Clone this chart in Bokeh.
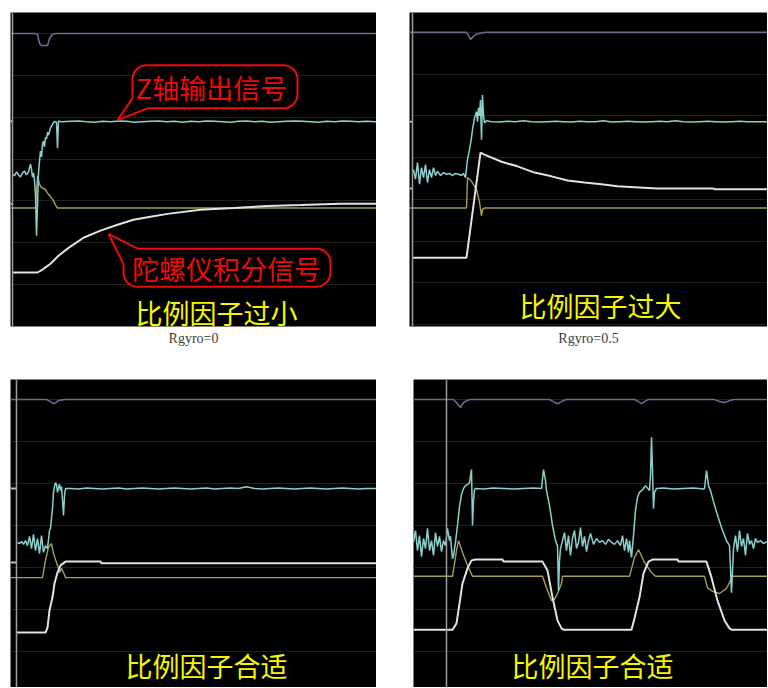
import numpy as np
from bokeh.plotting import figure
from bokeh.models import Range1d, Grid, FixedTicker, Span, Title, Spacer
from bokeh.layouts import row, column
from bokeh.core.properties import value
from bokeh.embed import file_html
from bokeh.resources import INLINE

# ------------------------------------------------------------------
# DATA  (x = time samples across the scope screen, y = scope divisions)
# ------------------------------------------------------------------
grid_levels = [0, 1, 2, 3, 4, 5, 6, 7]

# ---- panel 1 : Rgyro = 0  (比例因子过小) ----
p1_purple_t = [0, 25, 27, 29, 31, 37, 39, 42, 46, 366]
p1_purple_y = [7.0, 7.0, 6.98, 6.76, 6.71, 6.71, 6.88, 6.98, 7.0, 7.0]
p1_cyan_t = [2, 4, 6, 8, 10, 12, 14, 16, 18, 20,
             21, 22, 23, 24, 25, 26, 27, 28, 29, 30,
             31, 32, 33, 34, 35, 36, 37, 38, 40, 42,
             44, 46, 47, 48,
             52, 60, 68, 76, 84, 92, 100, 108, 116, 124,
             132, 140, 148, 156, 164, 172, 180, 188, 196, 204,
             212, 220, 228, 236, 244, 252, 260, 268, 276, 284,
             292, 300, 308, 316, 324, 332, 340, 348, 356, 366]
p1_cyan_y = [3.64, 3.60, 3.69, 3.62, 3.57, 3.67, 3.71, 3.62, 3.69, 3.88,
             3.76, 3.57, 3.67, 3.48, 3.12, 2.17, 2.88, 3.67, 3.95, 4.19,
             4.05, 4.36, 4.43, 4.29, 4.52, 4.48, 4.64, 4.57, 4.74, 4.83,
             4.90, 4.88, 4.26, 4.90,
             4.89, 4.90, 4.91, 4.89, 4.88, 4.90, 4.89, 4.91, 4.90, 4.88,
             4.89, 4.90, 4.91, 4.89, 4.90, 4.88, 4.90, 4.89, 4.91, 4.90,
             4.89, 4.88, 4.90, 4.91, 4.89, 4.90, 4.88, 4.89, 4.90, 4.91,
             4.90, 4.89, 4.88, 4.90, 4.89, 4.91, 4.90, 4.89, 4.90, 4.89]
p1_yellow_t = [0, 25, 26, 27, 29, 31, 34, 37, 40, 43, 45, 47, 366]
p1_yellow_y = [2.83, 2.83, 3.24, 3.60, 3.40, 3.31, 3.29, 3.19, 3.10, 3.00, 2.90, 2.83, 2.83]
p1_white_t = [2, 27, 32, 36, 40, 48, 57, 73, 90, 107, 123, 140, 157, 190, 223, 257, 290, 330, 366]
p1_white_y = [1.29, 1.29, 1.36, 1.43, 1.50, 1.69, 1.86, 2.12, 2.29, 2.43,
              2.55, 2.62, 2.69, 2.79, 2.83, 2.88, 2.90, 2.93, 2.93]
p1_edge_ticks = [4.90, 2.93]
p1_cursor = 2

# ---- panel 2 : Rgyro = 0.5  (比例因子过大) ----
p2_purple_t = [0, 57, 59, 61, 63, 66, 71, 76, 358]
p2_purple_y = [7.0, 7.0, 6.93, 6.83, 6.88, 6.95, 6.98, 7.0, 7.0]
p2_cyan_t = [4, 6, 8, 10, 12, 14, 16, 18, 20, 22,
             24, 26, 28, 31, 34, 37, 40, 43, 46, 49,
             52, 54, 56, 58, 60, 62, 63, 65, 67, 68,
             69, 70, 71, 72, 73, 74, 75, 77,
             82, 90, 98, 106, 114, 122, 130, 138, 146, 154,
             162, 170, 178, 186, 194, 202, 210, 218, 226, 234,
             242, 250, 258, 266, 274, 282, 290, 298, 306, 314,
             322, 330, 338, 346, 358]
p2_cyan_y = [3.71, 3.48, 3.88, 3.36, 3.76, 3.52, 3.83, 3.40, 3.71, 3.52,
             3.76, 3.57, 3.67, 3.57, 3.64, 3.60, 3.62, 3.57, 3.62, 3.60,
             3.57, 3.62, 3.52, 3.95, 4.19, 4.48, 4.67, 4.95, 5.10, 4.86,
             5.19, 5.00, 5.38, 4.43, 5.50, 5.02, 4.83, 4.88,
             4.86, 4.85, 4.87, 4.86, 4.88, 4.86, 4.85, 4.86, 4.87, 4.86,
             4.85, 4.87, 4.86, 4.86, 4.88, 4.85, 4.86, 4.87, 4.86, 4.85,
             4.86, 4.87, 4.86, 4.88, 4.86, 4.85, 4.86, 4.87, 4.86, 4.85,
             4.86, 4.87, 4.86, 4.86, 4.86]
p2_yellow_t = [0, 57, 58, 62, 67, 70, 72, 73, 75, 358]
p2_yellow_y = [2.79, 2.79, 3.52, 3.43, 3.24, 2.93, 2.60, 2.76, 2.79, 2.79]
p2_white_t = [3, 57, 71, 75, 92, 108, 125, 142, 158, 175, 192, 208, 225, 248, 304, 305, 358]
p2_white_y = [1.60, 1.60, 4.12, 4.07, 3.90, 3.79, 3.64, 3.55, 3.45, 3.40,
              3.36, 3.31, 3.29, 3.26, 3.26, 3.24, 3.24]
p2_edge_ticks = [4.86, 3.26]
p2_cursor = 3

# ---- panel 3 : 比例因子合适 ----
p3_purple_t = [0, 36, 40, 43, 45, 48, 55, 366]
p3_purple_y = [7.0, 7.0, 6.95, 6.90, 6.92, 6.98, 7.0, 7.0]
p3_cyan_t = [7, 9, 11, 13, 15, 17, 19, 21, 23, 25,
             27, 29, 31, 33, 35, 37, 39, 40, 41, 42,
             43, 44, 45, 46, 47, 48, 49, 50, 51, 52,
             53, 54, 55,
             60, 68, 76, 84, 92, 100, 108, 116, 124, 132,
             140, 148, 156, 164, 172, 180, 188, 196, 204, 212,
             220, 228, 236, 244, 252, 260, 268, 276, 284, 292,
             300, 308, 316, 324, 332, 340, 348, 356, 366]
p3_cyan_y = [3.60, 3.57, 3.62, 3.55, 3.64, 3.52, 3.74, 3.45, 3.79, 3.40,
             3.69, 3.33, 3.76, 3.36, 3.52, 3.45, 3.88, 3.93, 4.17, 4.40,
             4.79, 4.93, 5.02, 4.98, 4.79, 4.90, 4.98, 4.83, 4.93, 4.60,
             4.24, 4.71, 4.88,
             4.88, 4.87, 4.89, 4.88, 4.87, 4.88, 4.89, 4.87, 4.88, 4.89,
             4.88, 4.87, 4.88, 4.89, 4.88, 4.87, 4.88, 4.89, 4.87, 4.88,
             4.89, 4.88, 4.92, 4.88, 4.87, 4.88, 4.89, 4.88, 4.87, 4.88,
             4.89, 4.88, 4.87, 4.88, 4.89, 4.88, 4.87, 4.88, 4.88]
p3_yellow_t = [0, 32, 35, 38, 41, 43, 47, 49, 51, 53, 55, 366]
p3_yellow_y = [2.76, 2.76, 3.17, 3.48, 3.57, 3.33, 3.05, 2.88, 2.98, 2.88, 2.76, 2.76]
p3_white_t = [6, 35, 37, 39, 42, 44, 47, 50, 55, 90, 91, 366]
p3_white_y = [1.45, 1.45, 1.57, 1.98, 2.29, 2.62, 2.88, 3.05, 3.14, 3.14, 3.10, 3.10]
p3_edge_ticks = [4.88, 3.12]
p3_cursor = 6

# ---- panel 4 : 比例因子合适 (square-wave tracking) ----
p4_purple_t = [0, 40, 44, 47, 50, 54, 57, 136, 140, 144, 148, 153,
               221, 225, 228, 231, 235, 301, 306, 311, 316, 320, 354]
p4_purple_y = [7.0, 7.0, 6.90, 6.81, 6.93, 6.98, 7.0, 7.0, 6.95, 6.90, 6.95, 7.0,
               7.0, 6.95, 6.90, 6.95, 7.0, 7.0, 6.95, 6.93, 6.97, 7.0, 7.0]
p4_cyan_t = [0, 2, 4, 6, 8, 10, 12, 14, 16, 18,
             20, 22, 24, 26, 28, 30, 32, 34, 36, 37,
             38, 39, 40,
             42, 44, 46, 48, 50, 52, 54, 56, 58, 59,
             60, 61, 62,
             70, 80, 90, 100, 110, 120, 128,
             130, 132, 133, 136, 139, 142, 144, 145, 146, 147,
             149, 151, 153, 155, 157, 159, 161, 163, 165, 167,
             169, 171, 173, 175, 177, 180, 183, 186, 189, 192,
             195, 198, 201, 204, 207, 209, 211, 213, 215,
             216, 218, 220, 222, 224, 226, 228, 230, 232, 236,
             237, 238, 239, 240, 241, 243,
             250, 260, 270, 280, 290, 291,
             293, 295, 297, 301, 305, 309, 313, 316, 318, 320,
             322, 324, 326, 328, 330, 332, 334, 336, 338, 340,
             342, 344, 347, 350, 354]
p4_cyan_y = [3.60, 3.88, 3.40, 3.76, 3.26, 3.69, 3.45, 3.93, 3.40, 3.64,
             3.29, 3.83, 3.50, 3.74, 3.38, 3.64, 3.52, 3.93, 3.64, 3.74,
             3.45, 3.21, 3.29,
             3.60, 4.00, 4.45, 4.74, 4.88, 4.95, 4.98, 5.02, 5.33, 4.00,
             4.60, 4.86, 4.88,
             4.87, 4.89, 4.88, 4.87, 4.88, 4.89, 4.88,
             5.33, 5.07, 4.83, 4.48, 4.00, 3.64, 3.52, 2.45, 3.17, 3.45,
             3.64, 3.83, 3.40, 3.76, 3.29, 3.69, 3.88, 3.45, 3.60, 3.95,
             3.50, 3.74, 3.38, 3.64, 3.81, 3.55, 3.69, 3.60, 3.64, 3.55,
             3.67, 3.60, 3.55, 3.64, 3.52, 3.76, 3.40, 3.69, 3.36,
             3.64, 3.24, 3.76, 4.36, 4.67, 4.79, 4.83, 4.88, 4.95, 4.83,
             5.19, 6.10, 5.31, 4.40, 4.79, 4.88,
             4.89, 4.87, 4.88, 4.89, 4.87, 4.88,
             5.31, 4.95, 4.83, 4.48, 4.17, 3.88, 3.64, 3.52, 2.40, 3.45,
             3.76, 3.38, 3.88, 3.50, 3.69, 3.29, 3.81, 3.55, 3.64, 3.45,
             3.69, 3.60, 3.64, 3.57, 3.62]
p4_yellow_t = [0, 39, 43, 45, 49, 54, 59, 129, 133, 138, 141, 144, 148, 149,
               216, 221, 225, 231, 238, 242, 291, 294, 299, 306, 313, 318, 319, 354]
p4_yellow_y = [2.79, 2.79, 3.40, 3.64, 3.36, 3.05, 2.79, 2.79, 2.52, 2.21, 2.24, 2.38, 2.62, 2.79,
               2.79, 3.24, 3.43, 3.12, 2.88, 2.79, 2.79, 2.52, 2.43, 2.38, 2.50, 2.74, 2.79, 2.79]
p4_white_t = [0, 39, 43, 46, 49, 54, 58, 62, 89, 90, 129, 134, 139, 144, 148, 150,
              218, 221, 226, 230, 235, 239, 264, 265, 293, 298, 304, 311, 316, 318, 354]
p4_white_y = [1.52, 1.52, 1.67, 2.14, 2.62, 2.98, 3.17, 3.19, 3.19, 3.14, 3.14, 2.93, 2.29, 1.74, 1.55, 1.52,
              1.52, 1.79, 2.29, 2.86, 3.14, 3.19, 3.19, 3.14, 3.14, 2.76, 2.21, 1.74, 1.55, 1.52, 1.52]
p4_edge_ticks = []
p4_cursor = 33

# captions
captions = ["比例因子过小", "比例因子过大", "比例因子合适", "比例因子合适"]
caption_x = [206, 191, 196, 179]
caption_y = [0.33, 0.45, 0.66, 0.66]
rgyro_labels = ["Rgyro=0", "Rgyro=0.5"]

# red call-outs in panel 1
callout_text = ["Z轴输出信号", "陀螺仪积分信号"]
callout_text_x = [201, 216]
callout_text_y = [5.71, 1.38]
callout_box = [(122, 287, 5.21, 6.24), (113, 320, 0.95, 1.86)]   # x0, x1, y0, y1
callout_tip = [(107, 4.93), (98, 2.21)]
callout_base = [((122, 5.45), (137, 5.21)), ((113, 1.50), (127, 1.86))]
callout_inner = [((127, 5.45), (137, 5.29)), ((118, 1.50), (127, 1.78))]

# ------------------------------------------------------------------
# STYLE
# ------------------------------------------------------------------
C_PURPLE = "#676b93"
C_CYAN = "#8ccfcf"
C_YELLOW = "#a59f57"
C_WHITE = "#e2e2e2"
C_CURSOR = "#9d9d9d"
C_GRID = "#1f1f1f"
C_RED = "#ee0a0a"
C_CAPTION = "#f7f700"
CJK = "Noto Sans CJK SC"
PX_PER_DIV = 42.0


def make_panel(width, height, xr, yr, top, bottom):
    p = figure(width=width, height=height,
               x_range=Range1d(*xr), y_range=Range1d(*yr),
               x_axis_type=None, y_axis_type=None,
               toolbar_location=None, output_backend="svg",
               min_border_left=0, min_border_right=0,
               min_border_top=top, min_border_bottom=bottom,
               background_fill_color="black", border_fill_color="white",
               outline_line_color=None)
    p.add_layout(Grid(dimension=1, ticker=FixedTicker(ticks=grid_levels),
                      grid_line_color=C_GRID, grid_line_width=1))
    return p


def draw_traces(p, cursor, ticks, purple, yellow, white, cyan):
    p.add_layout(Span(location=cursor, dimension="height",
                      line_color=C_CURSOR, line_width=1.5))
    if ticks:
        p.segment(x0=[0] * len(ticks), x1=[cursor] * len(ticks), y0=ticks, y1=ticks,
                  line_color="#bdbdbd", line_width=2)
    p.line(purple[0], purple[1], line_color=C_PURPLE, line_width=1.6)
    p.line(yellow[0], yellow[1], line_color=C_YELLOW, line_width=1.4)
    p.line(white[0], white[1], line_color=C_WHITE, line_width=2.0)
    p.line(cyan[0], cyan[1], line_color=C_CYAN, line_width=1.5)


def caption(p, i):
    p.text(x=[caption_x[i]], y=[caption_y[i]], text=[captions[i]],
           text_font=value(CJK), text_font_size="27px", text_color=C_CAPTION,
           text_align="center", text_baseline="middle")


def rounded_outline(x0, x1, y0, y1, r_px):
    rx = r_px
    ry = r_px / PX_PER_DIV
    xs, ys = [], []
    corners = [(x1 - rx, y1 - ry, 0, 90), (x0 + rx, y1 - ry, 90, 180),
               (x0 + rx, y0 + ry, 180, 270), (x1 - rx, y0 + ry, 270, 360)]
    for cx, cy, a0, a1 in corners:
        for a in np.radians(np.linspace(a0, a1, 8)):
            xs.append(cx + rx * np.cos(a))
            ys.append(cy + ry * np.sin(a))
    return xs, ys


def add_callouts(p):
    for i in range(len(callout_text)):
        x0, x1, y0, y1 = callout_box[i]
        bx, by = rounded_outline(x0, x1, y0, y1, 14)
        p.patch(bx, by, fill_color="black", line_color=C_RED, line_width=2)
        (tx, ty) = callout_tip[i]
        (b1, b2) = callout_base[i]
        (n1, n2) = callout_inner[i]
        p.patch([tx, b1[0], n1[0], n2[0], b2[0]], [ty, b1[1], n1[1], n2[1], b2[1]],
                fill_color="black", line_color=None)
        p.line([b1[0], tx, b2[0]], [b1[1], ty, b2[1]], line_color=C_RED, line_width=2)
        p.text(x=[callout_text_x[i]], y=[callout_text_y[i]], text=[callout_text[i]],
               text_font=value(CJK), text_font_size="27px", text_color=C_RED,
               text_align="center", text_baseline="middle")


def rgyro_title(p, label):
    p.add_layout(Title(text=label, align="center", text_font="Liberation Serif",
                       text_font_size="14px", text_font_style="normal",
                       text_color="#3c3c3c", standoff=4), "below")


# ------------------------------------------------------------------
# FIGURES
# ------------------------------------------------------------------
p1 = make_panel(366, 379, (0, 366), (0, 7.5), 11, 53)
draw_traces(p1, p1_cursor, p1_edge_ticks, (p1_purple_t, p1_purple_y), (p1_yellow_t, p1_yellow_y),
            (p1_white_t, p1_white_y), (p1_cyan_t, p1_cyan_y))
add_callouts(p1)
caption(p1, 0)
rgyro_title(p1, rgyro_labels[0])

p2 = make_panel(358, 379, (0, 358), (-0.048, 7.476), 12, 51)
draw_traces(p2, p2_cursor, p2_edge_ticks, (p2_purple_t, p2_purple_y), (p2_yellow_t, p2_yellow_y),
            (p2_white_t, p2_white_y), (p2_cyan_t, p2_cyan_y))
caption(p2, 1)
rgyro_title(p2, rgyro_labels[1])

p3 = make_panel(366, 308, (0, 366), (0.143, 7.476), 0, 0)
draw_traces(p3, p3_cursor, p3_edge_ticks, (p3_purple_t, p3_purple_y), (p3_yellow_t, p3_yellow_y),
            (p3_white_t, p3_white_y), (p3_cyan_t, p3_cyan_y))
caption(p3, 2)

p4 = make_panel(354, 308, (0, 354), (0.143, 7.476), 0, 0)
draw_traces(p4, p4_cursor, p4_edge_ticks, (p4_purple_t, p4_purple_y), (p4_yellow_t, p4_yellow_y),
            (p4_white_t, p4_white_y), (p4_cyan_t, p4_cyan_y))
caption(p4, 3)

layout = column(
    row(Spacer(width=10, height=379), p1, Spacer(width=33, height=379), p2),
    row(Spacer(width=10, height=308), p3, Spacer(width=37, height=308), p4),
)

open("out.html", "w", encoding="utf-8").write(file_html(layout, INLINE, title="比例因子"))
